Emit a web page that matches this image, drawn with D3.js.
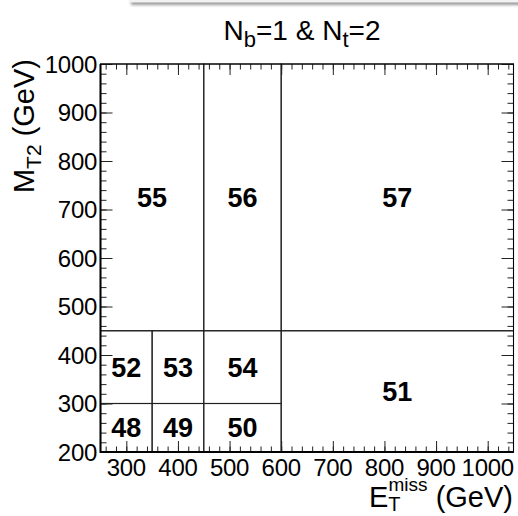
<!DOCTYPE html>
<html>
<head>
<meta charset="utf-8">
<script src="https://cdn.jsdelivr.net/npm/d3@7"></script>
<style>
  body { margin: 0; background: #fff; }
  svg { display: block; font-family: "Liberation Sans", Arial, sans-serif; }
</style>
</head>
<body>
<svg id="drawing_region"></svg>
<script>
// bin edges (GeV) and signal region numbers
const binNumbers = [48, 49, 50, 51, 52, 53, 54, 55, 56, 57];
const binMetLo = [250, 350, 450, 600, 250, 350, 450, 250, 450, 600];
const binMetHi = [350, 450, 600, 1050, 350, 450, 600, 450, 600, 1050];
const binMt2Lo = [200, 200, 200, 200, 300, 300, 300, 450, 450, 450];
const binMt2Hi = [300, 300, 300, 450, 450, 450, 450, 1000, 1000, 1000];

const xTicks = [300, 400, 500, 600, 700, 800, 900, 1000];
const yTicks = [200, 300, 400, 500, 600, 700, 800, 900, 1000];
const xMinor = d3.range(260, 1050, 20);
const yMinor = d3.range(220, 1000, 20);

const config = {
    width: 518,
    height: 516,
    left: 100.5, right: 513.5, top: 64, bottom: 452
};

const svg = d3.select('#drawing_region')
    .attr('width', config.width)
    .attr('height', config.height);

// title box shadow (cut off at the top of the canvas)
const defs = svg.append('defs');
defs.append('filter').attr('id', 'blur')
    .append('feGaussianBlur').attr('stdDeviation', 1.5);
svg.append('rect')
    .attr('x', 131).attr('y', -20).attr('width', 400).attr('height', 25)
    .attr('fill', '#9a9a9a').attr('filter', 'url(#blur)');
svg.append('rect')
    .attr('x', 129).attr('y', -20).attr('width', 400).attr('height', 22.5)
    .attr('fill', '#f2f2f2');

const xscale = d3.scaleLinear().domain([250, 1050]).range([config.left, config.right]);
const yscale = d3.scaleLinear().domain([200, 1000]).range([config.bottom, config.top]);

const bins = binNumbers.map((n, i) => ({
    n: n, x0: binMetLo[i], x1: binMetHi[i], y0: binMt2Lo[i], y1: binMt2Hi[i]
}));

// bin boxes
svg.append('g').selectAll('rect').data(bins).join('rect')
    .attr('x', d => xscale(d.x0))
    .attr('y', d => yscale(d.y1))
    .attr('width', d => xscale(d.x1) - xscale(d.x0))
    .attr('height', d => yscale(d.y0) - yscale(d.y1))
    .attr('fill', 'none')
    .attr('stroke', '#222')
    .attr('stroke-width', 1.1);

svg.append('g').selectAll('text').data(bins).join('text')
    .attr('x', d => xscale((d.x0 + d.x1) / 2))
    .attr('y', d => yscale((d.y0 + d.y1) / 2))
    .attr('dy', '0.36em')
    .attr('text-anchor', 'middle')
    .style('font-size', '27px')
    .style('font-weight', 'bold')
    .text(d => d.n);

// ticks on all four sides
function ticks(axis, values, size, transform) {
    svg.append('g')
        .attr('transform', transform)
        .call(axis.tickValues(values).tickSize(-size).tickFormat('').tickSizeOuter(0))
        .call(g => g.select('.domain').remove())
        .call(g => g.selectAll('line').attr('stroke', '#222').attr('stroke-width', 1));
}
ticks(d3.axisBottom(xscale), xTicks, 11, `translate(0,${config.bottom})`);
ticks(d3.axisBottom(xscale), xMinor, 5.5, `translate(0,${config.bottom})`);
ticks(d3.axisTop(xscale), xTicks, 11, `translate(0,${config.top})`);
ticks(d3.axisTop(xscale), xMinor, 5.5, `translate(0,${config.top})`);
ticks(d3.axisLeft(yscale), yTicks, 12, `translate(${config.left},0)`);
ticks(d3.axisLeft(yscale), yMinor, 6, `translate(${config.left},0)`);
ticks(d3.axisRight(yscale), yTicks, 12, `translate(${config.right},0)`);
ticks(d3.axisRight(yscale), yMinor, 6, `translate(${config.right},0)`);

// frame
svg.append('rect')
    .attr('x', config.left).attr('y', config.top)
    .attr('width', config.right - config.left)
    .attr('height', config.bottom - config.top)
    .attr('fill', 'none').attr('stroke', '#000').attr('stroke-width', 1);
svg.append('path')
    .attr('d', `M${config.left},${config.top}V${config.bottom}H${config.right}`)
    .attr('fill', 'none').attr('stroke', '#000').attr('stroke-width', 2);

// tick labels
svg.append('g').selectAll('text').data(xTicks).join('text')
    .attr('x', d => xscale(d))
    .attr('y', 476)
    .attr('text-anchor', 'middle')
    .style('font-size', '24px')
    .style('letter-spacing', '-0.3px')
    .text(d => d);

svg.append('g').selectAll('text').data(yTicks).join('text')
    .attr('x', 97)
    .attr('y', d => yscale(d))
    .attr('dy', '0.36em')
    .attr('text-anchor', 'end')
    .style('font-size', '24px')
    .style('letter-spacing', '-0.3px')
    .text(d => d);

// title
const title = svg.append('text')
    .attr('x', 302).attr('y', 40)
    .attr('text-anchor', 'middle')
    .style('font-size', '28px');
title.append('tspan').text('N');
title.append('tspan').attr('dy', 7).style('font-size', '22px').text('b');
title.append('tspan').attr('dy', -7).text('=1 & N');
title.append('tspan').attr('dy', 7).style('font-size', '22px').text('t');
title.append('tspan').attr('dy', -7).text('=2');

// axis titles
const xt = svg.append('text')
    .attr('x', 513).attr('y', 507)
    .attr('text-anchor', 'end')
    .style('font-size', '29px');
xt.append('tspan').text('E');
xt.append('tspan').attr('dy', 4).style('font-size', '20px').text('T');
xt.append('tspan').attr('dx', -12).attr('dy', -20).style('font-size', '19px').text('miss');
xt.append('tspan').attr('dy', 16).text(' (GeV)');

const yt = svg.append('text')
    .attr('transform', 'translate(34,59) rotate(-90)')
    .attr('text-anchor', 'end')
    .style('font-size', '29px');
yt.append('tspan').text('M');
yt.append('tspan').attr('dy', 7).style('font-size', '21px').text('T2');
yt.append('tspan').attr('dy', -7).text(' (GeV)');
</script>
</body>
</html>
